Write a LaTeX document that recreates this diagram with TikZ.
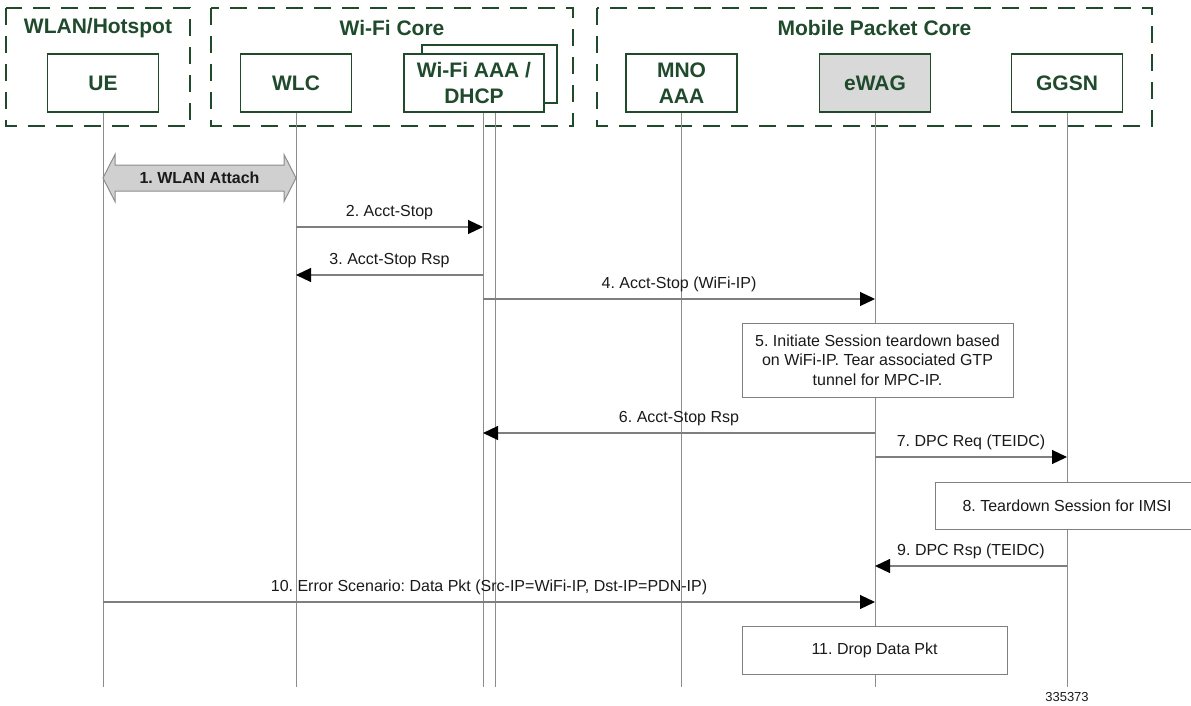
\documentclass[tikz,border=0pt]{standalone}
\usepackage{fontspec}
\setmainfont{Liberation Sans}
\usetikzlibrary{arrows.meta,calc}
\frenchspacing

\definecolor{darkgreen}{HTML}{1F4A2C}
\definecolor{lifegray}{HTML}{8C8C8C}
\definecolor{msggray}{HTML}{7F7F7F}
\definecolor{txtgray}{HTML}{1A1A1A}
\definecolor{boxgray}{HTML}{D9D9D9}
\definecolor{attachgray}{HTML}{D0D0D0}

\tikzset{
  group/.style={draw=darkgreen, line width=2pt, dash pattern=on 17pt off 11pt},
  grouptitle/.style={text=darkgreen, font=\fontsize{21}{25}\selectfont\bfseries},
  actor/.style={draw=darkgreen, line width=1.6pt, fill=white, minimum width=111pt,
    minimum height=58pt, text=darkgreen, font=\fontsize{21}{26}\selectfont\bfseries,
    align=center, inner sep=0pt},
  lifeline/.style={draw=lifegray, line width=1pt},
  msg/.style={draw=msggray, line width=1.2pt, -{Triangle[length=15pt,width=14pt,color=black]}},
  msgtext/.style={text=txtgray, font=\fontsize{16}{19.5}\selectfont, inner sep=2pt, above=5pt, midway},
  note/.style={draw=msggray, line width=1pt, fill=white, text=txtgray,
    font=\fontsize{16}{19.5}\selectfont, align=center, inner sep=0pt}
}

\begin{document}
\begin{tikzpicture}[x=1pt, y=-1pt]

    \useasboundingbox (0,0) rectangle (1191,706);

    % Groups
    \draw[group] (6,8) rectangle (190,126);
    \draw[group] (211,8) rectangle (573,126);
    \draw[group] (597,8) rectangle (1152,126);
    \node[grouptitle] (hotspot) at (98,28) {WLAN/Hotspot};
    \node[grouptitle] (wificore) at (392,28) {Wi-Fi Core};
    \node[grouptitle] (mpc) at (874.5,28) {Mobile Packet Core};

    % Participants
    \node[actor] (ue) at (103,83) {UE};
    \node[actor] (wlc) at (296,83) {WLC};
    \node[actor, minimum width=135pt] (aaaback) at (489.5,74) {};
    \node[actor, minimum width=140pt] (aaa) at (474,83) {Wi-Fi AAA /\\DHCP};
    \node[actor] (mno) at (681.5,83) {MNO\\AAA};
    \node[actor, fill=boxgray] (ewag) at (875,83) {eWAG};
    \node[actor] (ggsn) at (1067,83) {GGSN};

    % Lifelines
    \coordinate (aaa1) at ($(aaa.south)+(9,0)$);
    \coordinate (aaa2) at ($(aaa.south)+(21,0)$);
    \foreach \n in {ue,wlc,mno,ewag,ggsn}
        \draw[lifeline] (\n.south) -- (\n |- 0,687);
    \draw[lifeline] (aaa1) -- (aaa1 |- 0,687);
    \draw[lifeline] (aaa2) -- (aaa2 |- 0,687);

    % 1. WLAN attach (block arrow)
    \coordinate (att1) at (ue |- 0,178);
    \coordinate (att2) at (wlc |- 0,178);
    \filldraw[fill=attachgray, draw=lifegray, line width=1pt]
        (att1) -- ++(12,-23.5) -- ++(0,10.5) -- ($(att2)+(-12,-13)$) -- ++(0,-10.5)
        -- (att2) -- ++(-12,23.5) -- ++(0,-10.5) -- ($(att1)+(12,13)$) -- ++(0,10.5) -- cycle;
    \node[font=\fontsize{16}{19}\selectfont\bfseries, text=txtgray] (attach)
        at ($(att1)!0.5!(att2)$) {1. WLAN Attach};

    % Messages
    \draw[msg] (wlc |- 0,227) -- node[msgtext] {2. Acct-Stop} (aaa1 |- 0,227);
    \draw[msg] (aaa1 |- 0,275) -- node[msgtext] {3. Acct-Stop Rsp} (wlc |- 0,275);
    \draw[msg] (aaa1 |- 0,299) -- node[msgtext] {4. Acct-Stop (WiFi-IP)} (ewag |- 0,299);
    \node[note, minimum width=271pt, minimum height=74pt] (teardown) at (877.5,360)
        {5. Initiate Session teardown based\\on WiFi-IP. Tear associated GTP\\tunnel for MPC-IP.};
    \draw[msg] (ewag |- 0,433) -- node[msgtext] {6. Acct-Stop Rsp} (aaa1 |- 0,433);
    \draw[msg] (ewag |- 0,457) -- node[msgtext] {7. DPC Req (TEIDC)} (ggsn |- 0,457);
    \node[note, minimum width=264pt, minimum height=47pt] (imsi) at (1067,505.5)
        {8. Teardown Session for IMSI};
    \draw[msg] (ggsn |- 0,566) -- node[msgtext] {9. DPC Rsp (TEIDC)} (ewag |- 0,566);
    \draw[msg] (ue |- 0,602) -- node[msgtext]
        {10. Error Scenario: Data Pkt (Src-IP=WiFi-IP, Dst-IP=PDN-IP)} (ewag |- 0,602);
    \node[note, minimum width=265pt, minimum height=48pt] (drop) at (874.5,650)
        {11. Drop Data Pkt};

    % Figure number
    \node[text=txtgray, font=\fontsize{13}{15}\selectfont] (fignum) at (1067,697) {335373};

\end{tikzpicture}
\end{document}
